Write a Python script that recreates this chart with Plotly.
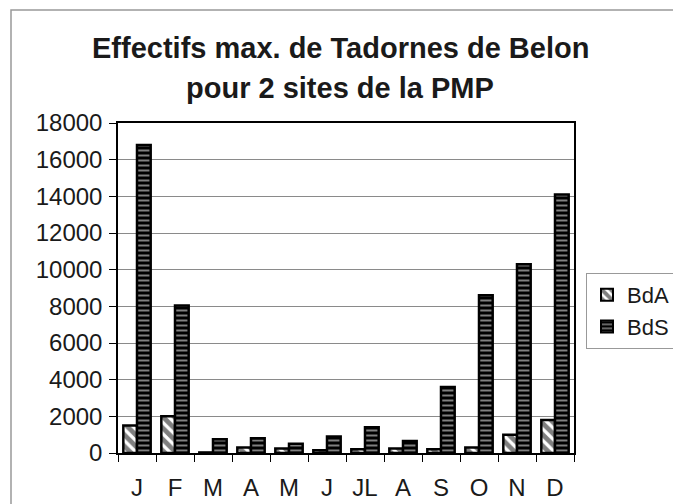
import plotly.graph_objects as go

months = ["J", "F", "M", "A", "M ", "J ", "JL", "A ", "S", "O", "N", "D"]
month_labels = ["J", "F", "M", "A", "M", "J", "JL", "A", "S", "O", "N", "D"]
bda = [1500, 2000, 30, 300, 250, 150, 200, 250, 200, 300, 1000, 1800]
bds = [16800, 8050, 750, 800, 500, 900, 1400, 650, 3600, 8600, 10300, 14100]
y_ticks = [0, 2000, 4000, 6000, 8000, 10000, 12000, 14000, 16000, 18000]
y_tick_labels = [str(v) for v in y_ticks]

FONT = "Arial, Liberation Sans, sans-serif"

# page body has an 8px margin: work in reference pixels, offset by 8
OFF = 8
W, H = 681 - OFF, 504 - OFF
L, R, T, B = 118 - OFF, 574 - OFF, 123 - OFF, 453 - OFF
pw, ph = R - L, B - T

def px(x):
    return (x - OFF - L) / pw

def py(y):
    return (B - (y - OFF)) / ph

fig = go.Figure()
fig.add_trace(go.Bar(
    x=months, y=bda, name="BdA",
    marker=dict(color="white", line=dict(color="black", width=2.5),
                pattern=dict(shape="\\", fgcolor="black", bgcolor="white",
                             size=8, solidity=0.6)),
))
fig.add_trace(go.Bar(
    x=months, y=bds, name="BdS",
    marker=dict(color="black", line=dict(color="black", width=2.5),
                pattern=dict(shape="-", fgcolor="white", bgcolor="black",
                             size=5, solidity=0.4)),
))

fig.update_layout(
    width=W, height=H,
    margin=dict(l=L, r=W - R, t=T, b=H - B, autoexpand=False),
    paper_bgcolor="white", plot_bgcolor="white",
    barmode="group", bargap=0.28, bargroupgap=0,
    font=dict(family=FONT, size=24, color="#1a1a1a"),
    showlegend=True,
    legend=dict(x=px(586), y=py(273), xanchor="left", yanchor="top",
                bordercolor="#999999", borderwidth=1, bgcolor="white",
                font=dict(size=22, family=FONT), tracegroupgap=0,
                itemwidth=30, itemsizing="constant"),
    xaxis=dict(tickmode="array", tickvals=months, ticktext=month_labels,
               tickson="boundaries", ticks="outside", ticklen=7,
               tickcolor="black", showline=True, linecolor="black",
               linewidth=1.5, mirror=True, showgrid=False,
               ticklabelstandoff=12,
               tickfont=dict(size=24, family=FONT)),
    yaxis=dict(range=[0, 18000], tickmode="array", tickvals=y_ticks,
               ticktext=y_tick_labels, ticks="outside",
               ticklen=7, tickcolor="black", showline=True,
               linecolor="black", linewidth=1.5, mirror=True,
               showgrid=True, gridcolor="#8a8a8a", gridwidth=1,
               zeroline=False, ticklabelstandoff=2,
               tickfont=dict(size=24, family=FONT)),
    annotations=[
        dict(text="<b>Effectifs max. de Tadornes de Belon</b>", x=px(340),
             y=py(48), xref="paper", yref="paper", showarrow=False,
             xanchor="center", yanchor="middle",
             font=dict(size=29, family=FONT, color="#1a1a1a")),
        dict(text="<b>pour 2 sites de la PMP</b>", x=px(340), y=py(88),
             xref="paper", yref="paper", showarrow=False,
             xanchor="center", yanchor="middle",
             font=dict(size=29, family=FONT, color="#1a1a1a")),
    ],
    shapes=[
        dict(type="rect", xref="paper", yref="paper",
             x0=px(11), x1=px(700), y0=py(520), y1=py(10),
             line=dict(color="#999999", width=1.5)),
    ],
)

fig.write_html("out.html")
